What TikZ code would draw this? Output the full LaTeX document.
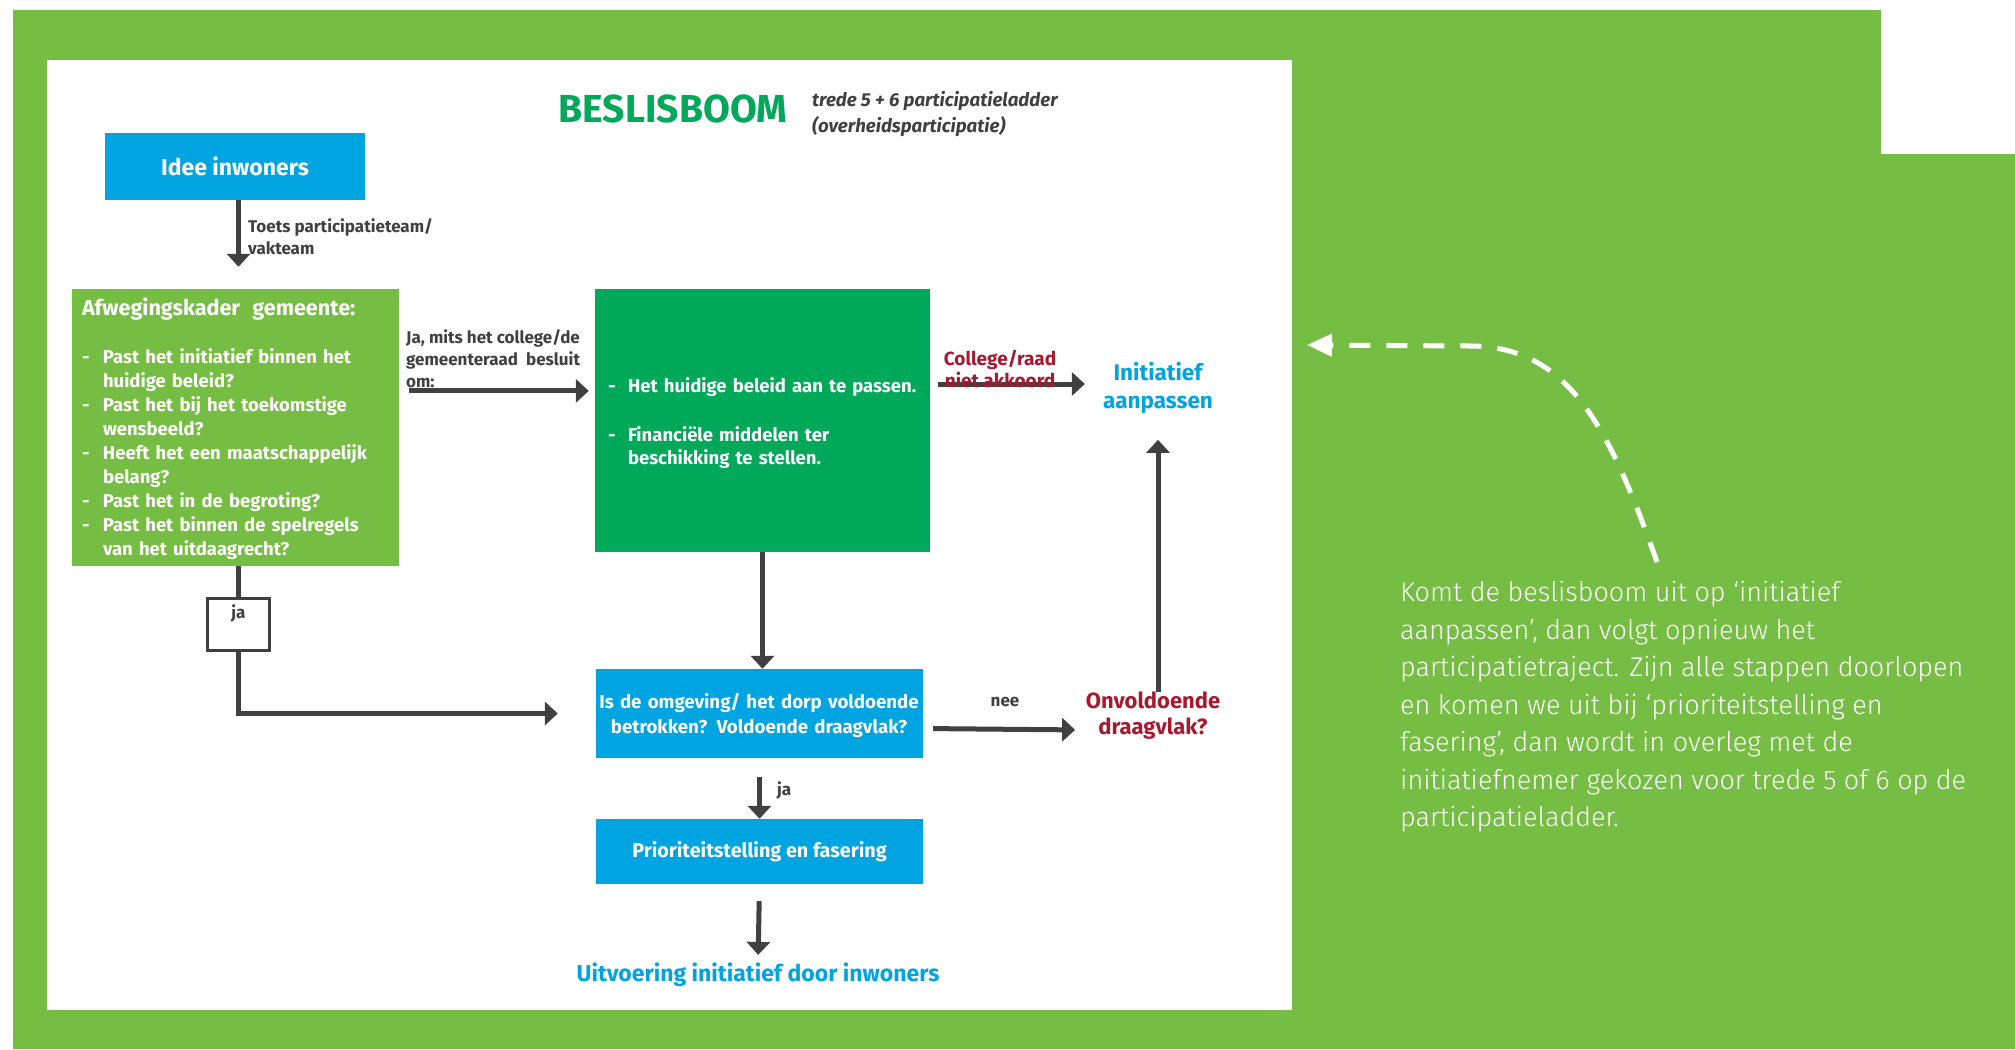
\documentclass[tikz,border=0pt]{standalone}
\usepackage{fontspec}
\setmainfont{Fira Sans}
\newfontfamily\lightfont{Fira Sans Light}
\usetikzlibrary{arrows.meta, positioning}
\definecolor{LeafGreen}{HTML}{76BE43}
\definecolor{DeepGreen}{HTML}{00A859}
\definecolor{SkyBlue}{HTML}{00A4E0}
\definecolor{WineRed}{HTML}{A6192E}
\definecolor{ArrowGray}{HTML}{404041}
\newcommand{\fsize}[2]{\fontsize{#1}{#2}\selectfont}

\tikzset{
  blockbox/.style={rectangle, inner sep=0pt, text=white, font=\fsize{18.5}{24}\bfseries},
  bluebox/.style={blockbox, fill=SkyBlue},
  greenbox/.style={blockbox, fill=LeafGreen},
  deepbox/.style={blockbox, fill=DeepGreen},
  flow/.style={draw=ArrowGray, line width=5pt, -{Triangle[width=23pt,length=13pt]}},
  wire/.style={draw=ArrowGray, line width=5pt},
  remark/.style={inner sep=0pt, text=ArrowGray, align=left, font=\fsize{17}{22}\bfseries},
  outcome/.style={inner sep=0pt, align=center, font=\fsize{22.5}{28}\bfseries},
  backarrow/.style={draw=white, line width=5pt, dash pattern=on 21pt off 16pt,
                    -{Triangle[width=22pt,length=25pt]}}
}

\begin{document}
\begin{tikzpicture}[x=1pt,y=-1pt]
    \useasboundingbox (0,0) rectangle (2015,1049);

    % Green backdrop and white sheet
    \fill[LeafGreen] (13,10) -- (1881,10) -- (1881,154) -- (2015,154)
        -- (2015,1049) -- (13,1049) -- cycle;
    \fill[white] (47,60) rectangle (1292,1010);

    % Title
    \node[inner sep=0pt, text=DeepGreen, font=\fsize{39}{44}\bfseries] (title) at (673,109) {BESLISBOOM};
    \node[inner sep=0pt, text=ArrowGray, align=left, anchor=west,
          font=\fsize{18.7}{26}\bfseries\itshape] (subtitle) at (812,114) {
        trede 5 + 6 participatieladder\\(overheidsparticipatie)
    };

    % Boxes
    \node[bluebox, minimum width=260pt, minimum height=67pt,
          font=\fsize{23}{26}\bfseries] (idee) at (235,166) {Idee inwoners};

    \node[greenbox, text width=307pt, inner xsep=10pt, minimum height=277pt,
          align=left] (afweg) at (235.5,427.5) {
        {\fsize{21.6}{24}\rule{0pt}{23pt}Afwegingskader\ \ gemeente:}\\[24pt]
        \begin{tabular}[t]{@{}p{21pt}@{}l@{}}
        - & Past het initiatief binnen het\\
          & huidige beleid?\\
        - & Past het bij het toekomstige\\
          & wensbeeld?\\
        - & Heeft het een maatschappelijk\\
          & belang?\\
        - & Past het in de begroting?\\
        - & Past het binnen de spelregels\\
          & van het uitdaagrecht?
        \end{tabular}
    };

    \node[deepbox, text width=309pt, inner xsep=13pt, minimum height=263pt,
          align=left, font=\fsize{18.5}{23.5}\bfseries] (beleid) at (762.5,420.5) {
        \begin{tabular}[t]{@{}p{20pt}@{}l@{}}
        -\rule{0pt}{24pt} & Het huidige beleid aan te passen.\\[25pt]
        - & Financiële middelen ter\\
          & beschikking te stellen.
        \end{tabular}
    };

    \node[bluebox, text width=327pt, minimum height=89pt, align=center,
          font=\fsize{18.7}{25}\bfseries] (omgeving) at (759,713.5) {
        \rule{0pt}{20pt}Is de omgeving/ het dorp voldoende\\betrokken? Voldoende draagvlak?
    };

    \node[bluebox, minimum width=327pt, minimum height=65pt,
          font=\fsize{19.8}{24}\bfseries] (prior) at (759.5,851.5)
        {Prioriteitstelling en fasering};

    \node[draw=ArrowGray, line width=3pt, fill=white, inner sep=0pt,
          minimum width=62pt, minimum height=52pt,
          label={[remark, anchor=north, yshift=-8pt]north:ja}] (jabox) at (238.5,624.5) {};

    % Outcomes and labels
    \node[outcome, text=SkyBlue] (init) at (1158,388) {Initiatief\\aanpassen};
    \node[outcome, text=WineRed, font=\fsize{22}{26}\bfseries] (onvold) at (1153,716)
        {Onvoldoende\\draagvlak?};
    \node[outcome, text=SkyBlue, font=\fsize{23}{26}\bfseries] (uitv) at (758,975)
        {Uitvoering initiatief door inwoners};

    \node[remark, anchor=west] (toets) at (248,236.5) {Toets participatieteam/\\vakteam};
    \node[remark, anchor=west] (jamits) at (406,359) {Ja, mits het college/de\\gemeenteraad\ \ besluit\\om:};
    \node[remark] (nee) at (1005,702) {nee};
    \node[remark, anchor=west] (ja2) at (777,790) {ja};

    % Connectors
    \draw[flow, shorten >=22pt] (jabox.north |- idee.south) -- (jabox.north |- afweg.north);
    \draw[wire] (jabox.north |- afweg.south) -- (jabox.north);
    \draw[flow, shorten >=37.5pt] (jabox.south) |- (omgeving.west);
    \draw[flow, shorten <=10pt, shorten >=6pt] (afweg.east |- beleid.170) -- (beleid.170);
    \draw[flow, shorten <=8pt, shorten >=18pt]
        ([yshift=4pt]beleid.east |- init.west) -- ([yshift=4pt]init.west);
    \draw[flow] (beleid.south) -- (beleid.south |- omgeving.north);
    \draw[flow, shorten <=10.5pt, shorten >=10.5pt]
        ([yshift=-15pt]omgeving.east) -- ([yshift=-14pt]onvold.west);
    \draw[flow, shorten >=26pt] (init.south |- onvold.north) -- (init.south);
    \draw[flow, shorten <=19pt] (omgeving.south -| prior.north) -- (prior.north);
    \draw[flow, shorten <=17pt, shorten >=8pt] (prior.south) -- (uitv.north);

    % Red label sits on its arrow
    \node[outcome, text=WineRed, font=\fsize{19}{22}\bfseries] (akkoord) at (1000,369)
        {College/raad\\niet akkoord};

    % Side note with the way back
    \node[anchor=north west, inner sep=0pt, text=white, align=left,
          font=\lightfont\fsize{27}{37.5}] (note) at (1400,581) {
        Komt de beslisboom uit op ‘initiatief\\
        aanpassen’, dan volgt opnieuw het\\
        participatietraject. Zijn alle stappen doorlopen\\
        en komen we uit bij ‘prioriteitstelling en\\
        fasering’, dan wordt in overleg met de\\
        initiatiefnemer gekozen voor trede 5 of 6 op de\\
        participatieladder.
    };
    \coordinate (loopback) at (1307,345);
    \coordinate (notetop) at (1657,562);
    \draw[backarrow] (notetop) .. controls (1610,430) and (1570,346) .. (1470,346) -- (loopback);
\end{tikzpicture}
\end{document}
